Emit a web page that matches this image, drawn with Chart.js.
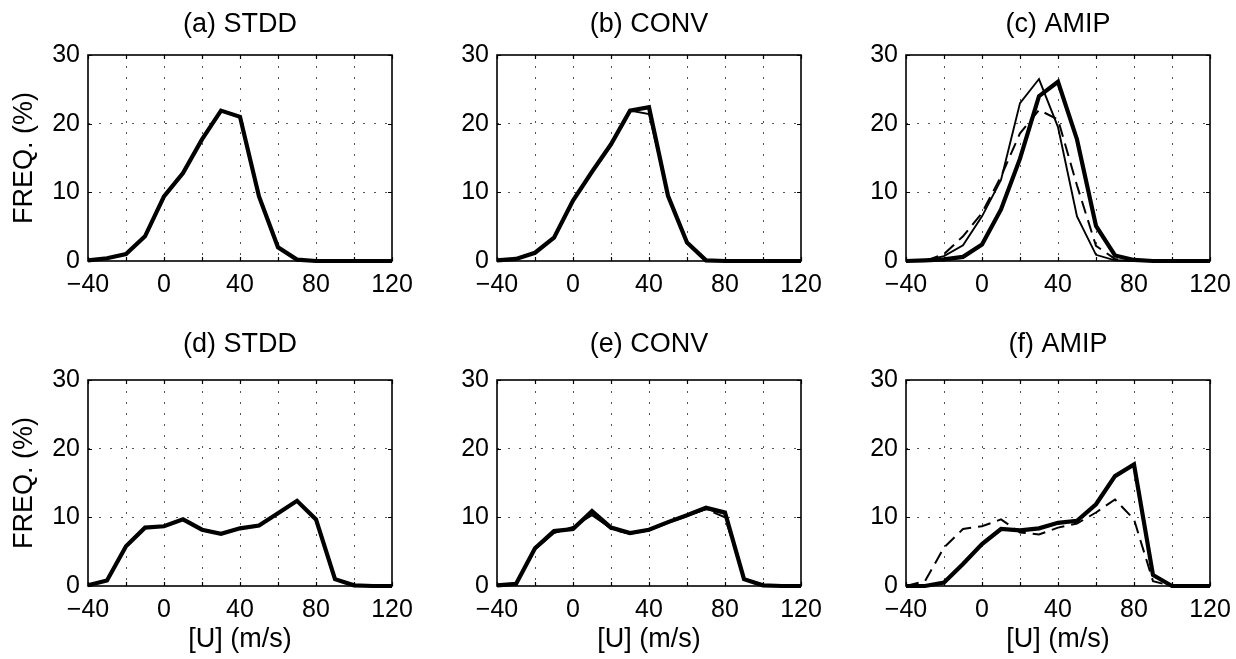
<!DOCTYPE html>
<html><head><meta charset="utf-8">
<script src="https://cdn.jsdelivr.net/npm/chart.js@4.4.1/dist/chart.umd.min.js"></script>
<style>
html,body{margin:0;padding:0;background:#fff;width:1236px;height:659px;overflow:hidden;position:relative}
canvas{position:absolute}
</style></head><body>
<canvas id="pa"></canvas><canvas id="pb"></canvas><canvas id="pc"></canvas>
<canvas id="pd"></canvas><canvas id="pe"></canvas><canvas id="pf"></canvas>
<script>
// ---- data ----
const uBins = [-40,-30,-20,-10,0,10,20,30,40,50,60,70,80,90,100,110,120];
const xTickValues = [-40,0,40,80,120];
const xTickLabels = ['\u221240','0','40','80','120'];
const yTickValues = [0,10,20,30];
const panelTitles = ['(a) STDD','(b) CONV','(c) AMIP','(d) STDD','(e) CONV','(f) AMIP'];
const yLabel = 'FREQ. (%)';
const xLabel = '[U] (m/s)';

const aThick = [0.1,0.4,1.0,3.6,9.4,12.8,17.7,21.9,21.0,9.4,2.0,0.2,0,0,0,0,0];
const bThick = [0.1,0.3,1.2,3.4,8.8,13.0,17.0,21.9,22.4,9.5,2.7,0.1,0,0,0,0,0];
const bThin  = [0.1,0.3,1.2,3.4,8.8,13.0,17.0,21.9,21.4,9.7,2.7,0.1,0,0,0,0,0];
const cThick = [0,0.1,0.25,0.6,2.4,7.5,14.9,24.0,26.1,17.7,5.1,0.8,0.15,0,0,0,0];
const cThin  = [0,0.1,0.7,2.3,6.5,11.8,23.0,26.5,19.5,6.5,0.9,0.1,0,0,0,0,0];
const cDash  = [0,0,1.0,3.6,7.0,12.3,18.6,22.0,20.6,11.0,2.2,0.3,0,0,0,0,0];
const dThick = [0.1,0.8,5.8,8.5,8.7,9.7,8.2,7.6,8.4,8.8,10.6,12.4,9.7,1.0,0.1,0,0];
const eThick = [0.1,0.3,5.5,8.0,8.3,10.9,8.5,7.7,8.2,9.3,10.3,11.4,10.7,1.0,0.1,0,0];
const eThin  = [0.1,0.3,5.3,7.7,8.6,10.3,8.4,7.6,8.1,9.2,10.2,11.2,10.5,1.1,0.1,0,0];
const eDash  = [0.1,0.3,5.4,7.8,8.5,10.6,8.3,7.6,8.1,9.2,10.2,11.2,10.0,1.1,0.1,0,0];
const fThick = [0,0,0.5,3.2,6.1,8.3,8.1,8.4,9.2,9.5,11.9,16.0,17.7,1.6,0,0,0];
const fDash  = [0,0.7,5.6,8.3,8.7,9.7,7.8,7.5,8.5,9.1,10.7,12.6,9.7,0.7,0,0,0];

// ---- layout ----
const FONT = '"Liberation Sans", Arial, Helvetica, sans-serif';
Chart.defaults.font.family = FONT;
Chart.defaults.color = '#000';

const STY = {
  thick: {borderWidth: 4.2, borderDash: []},
  thin: {borderWidth: 1.9, borderDash: []},
  dash: {borderWidth: 2, borderDash: [13, 7]}
};

const panels = [
  {id:'pa', col:0, row:0, title:panelTitles[0], series:[[aThick,'thick']]},
  {id:'pb', col:1, row:0, title:panelTitles[1], series:[[bThick,'thick'],[bThin,'thin']]},
  {id:'pc', col:2, row:0, title:panelTitles[2], series:[[cThick,'thick'],[cThin,'thin'],[cDash,'dash']]},
  {id:'pd', col:0, row:1, title:panelTitles[3], series:[[dThick,'thick']]},
  {id:'pe', col:1, row:1, title:panelTitles[4], series:[[eThick,'thick'],[eThin,'thin'],[eDash,'dash']]},
  {id:'pf', col:2, row:1, title:panelTitles[5], series:[[fThick,'thick'],[fDash,'dash']]}
];
const plotLeft = [88, 497, 906];
const plotTop = [55, 380];
const AX_W = 88, TOP_H = 55, PLOT_W = 304, PLOT_H = 206, CW = 422, CH = 336;
const titlePad = [{top:8.3,bottom:14.3},{top:3.8,bottom:18.8}];

const boxPlugin = {
  id: 'box',
  afterDatasetsDraw(chart) {
    const {ctx, chartArea: a, scales: {x, y}} = chart;
    ctx.save();
    ctx.strokeStyle = '#000';
    ctx.lineWidth = 1.6;
    ctx.setLineDash([]);
    ctx.strokeRect(a.left, a.top, a.right - a.left, a.bottom - a.top);
    ctx.lineWidth = 1.2;
    const tl = 4;
    ctx.beginPath();
    x.ticks.forEach(t => {
      const p = Math.round(x.getPixelForValue(t.value)) + 0.5;
      ctx.moveTo(p, a.bottom); ctx.lineTo(p, a.bottom - tl);
      ctx.moveTo(p, a.top); ctx.lineTo(p, a.top + tl);
    });
    y.ticks.forEach(t => {
      const p = Math.round(y.getPixelForValue(t.value)) + 0.5;
      ctx.moveTo(a.left, p); ctx.lineTo(a.left + tl, p);
      ctx.moveTo(a.right, p); ctx.lineTo(a.right - tl, p);
    });
    ctx.stroke();
    ctx.restore();
  }
};

panels.forEach(p => {
  const cv = document.getElementById(p.id);
  const left = plotLeft[p.col] - AX_W, top = plotTop[p.row] - TOP_H;
  cv.width = CW; cv.height = CH;
  cv.style.left = left + 'px'; cv.style.top = top + 'px';
  cv.style.width = CW + 'px'; cv.style.height = CH + 'px';
  const showY = p.col === 0, showX = p.row === 1;
  const datasets = p.series.map(([vals, s]) => ({
    data: uBins.map((u, i) => ({x: u, y: vals[i]})),
    borderColor: '#000',
    backgroundColor: '#000',
    borderWidth: STY[s].borderWidth,
    borderDash: STY[s].borderDash,
    pointRadius: 0,
    tension: 0,
    fill: false,
    clip: 6
  }));
  new Chart(cv, {
    type: 'line',
    data: {datasets},
    plugins: [boxPlugin],
    options: {
      responsive: false,
      devicePixelRatio: 1,
      animation: false,
      events: [],
      layout: {padding: {left: 0, right: CW - AX_W - PLOT_W, top: 0, bottom: 0}, autoPadding: false},
      plugins: {
        legend: {display: false},
        tooltip: {enabled: false},
        title: {display: true, text: p.title, fullSize: false, color: '#000',
                font: {size: 27, weight: 'normal', family: FONT}, padding: titlePad[p.row]}
      },
      scales: {
        x: {
          type: 'linear', min: -40, max: 120,
          afterFit: s => { s.height = CH - TOP_H - PLOT_H; },
          ticks: {stepSize: 20, autoSkip: false, maxRotation: 0, padding: 9,
                  font: {size: 25, family: FONT}, color: '#000',
                  callback: v => { const i = xTickValues.indexOf(v); return i >= 0 ? xTickLabels[i] : ''; }},
          grid: {drawTicks: false, lineWidth: 1,
                 color: c => (c.tick && (c.tick.value === -40 || c.tick.value === 120)) ? 'rgba(0,0,0,0)' : '#555'},
          border: {display: false, dash: [2, 9]},
          title: {display: showX, text: xLabel, color: '#000', font: {size: 27, family: FONT},
                  padding: {top: 0, bottom: 4.8}}
        },
        y: {
          type: 'linear', min: 0, max: 30,
          afterFit: s => { s.width = AX_W; },
          ticks: {stepSize: 10, padding: 8, font: {size: 25, family: FONT}, color: '#000',
                  callback: v => (yTickValues.indexOf(v) >= 0 ? String(v) : '')},
          grid: {drawTicks: false, lineWidth: 1,
                 color: c => (c.tick && (c.tick.value === 0 || c.tick.value === 30)) ? 'rgba(0,0,0,0)' : '#555'},
          border: {display: false, dash: [2, 9]},
          title: {display: showY, text: yLabel, color: '#000', font: {size: 27, family: FONT},
                  padding: {top: 8.8, bottom: 0}}
        }
      }
    }
  });
});
</script>
</body></html>
